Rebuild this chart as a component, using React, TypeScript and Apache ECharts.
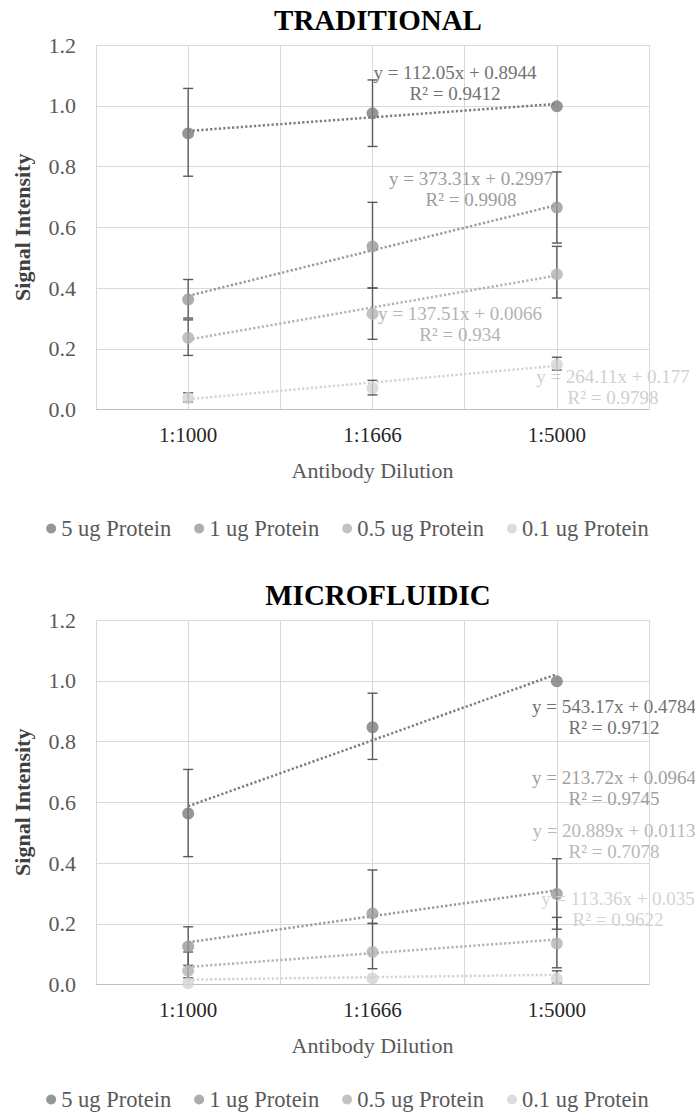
import React, { useEffect, useRef } from "react";
import * as echarts from "echarts";

// ---------- data ----------
const categories = ["1:1000", "1:1666", "1:5000"];
const seriesNames = ["5 ug Protein", "1 ug Protein", "0.5 ug Protein", "0.1 ug Protein"];
const seriesColors = ["#7c7c7c", "#999999", "#b3b3b3", "#d3d3d3"];

// TRADITIONAL
const tradValues = [
  [0.909, 0.975, 0.998],
  [0.362, 0.537, 0.665],
  [0.236, 0.315, 0.445],
  [0.038, 0.07, 0.148],
];
const tradErrLow = [
  [0.768, 0.866, null],
  [0.301, 0.4, 0.548],
  [0.178, 0.231, 0.367],
  [0.025, 0.048, 0.13],
];
const tradErrHigh = [
  [1.057, 1.085, null],
  [0.428, 0.682, 0.782],
  [0.295, 0.4, 0.537],
  [0.055, 0.096, 0.172],
];
const tradTrend = [
  [0.917, 0.962, 1.006],
  [0.374, 0.524, 0.673],
  [0.23, 0.336, 0.441],
  [0.034, 0.089, 0.144],
];
const tradEquations = ["y = 112.05x + 0.8944", "y = 373.31x + 0.2997", "y = 137.51x + 0.0066", "y = 264.11x + 0.177"];
const tradR2 = ["R² = 0.9412", "R² = 0.9908", "R² = 0.934", "R² = 0.9798"];

// MICROFLUIDIC
const microValues = [
  [0.563, 0.847, 0.998],
  [0.125, 0.234, 0.298],
  [0.045, 0.107, 0.135],
  [0.004, 0.02, 0.019],
];
const microErrLow = [
  [0.421, 0.741, null],
  [0.063, 0.201, 0.182],
  [0.022, 0.052, 0.055],
  [null, null, 0.005],
];
const microErrHigh = [
  [0.708, 0.959, null],
  [0.19, 0.377, 0.414],
  [0.107, 0.201, 0.221],
  [null, null, 0.045],
];
const microTrend = [
  [0.587, 0.804, 1.022],
  [0.139, 0.225, 0.31],
  [0.058, 0.103, 0.148],
  [0.016, 0.024, 0.032],
];
const microEquations = ["y = 543.17x + 0.4784", "y = 213.72x + 0.0964", "y = 20.889x + 0.0113", "y = 113.36x + 0.035"];
const microR2 = ["R² = 0.9712", "R² = 0.9745", "R² = 0.7078", "R² = 0.9622"];

// ---------- styling / layout ----------
const FONT = '"Liberation Serif", "Times New Roman", serif';
const W = 695;
const H = 1114;
const OFFSET = 575; // vertical offset of the second panel
const legendTops = [517, 1088];

const tradLabelPos = [
  { x: 455, y: 72, color: "#727272" },
  { x: 471, y: 178, color: "#9c9c9c" },
  { x: 460, y: 313, color: "#b4b4b4" },
  { x: 613, y: 376, color: "#d0d0d0" },
];
const microLabelPos = [
  { x: 614, y: 706 - OFFSET, color: "#727272" },
  { x: 614, y: 777 - OFFSET, color: "#a0a0a0" },
  { x: 614, y: 830 - OFFSET, color: "#b8b8b8" },
  { x: 618, y: 898 - OFFSET, color: "#d3d3d3" },
];

const xPos = (i: number) => i + 0.5;

function buildPanel(
  idx: number,
  titleText: string,
  values: number[][],
  errLow: (number | null)[][],
  errHigh: (number | null)[][],
  trend: number[][],
  eqs: string[],
  r2s: string[],
  labelPos: { x: number; y: number; color: string }[]
) {
  const dy = idx * OFFSET;
  const grid = { left: 96, right: 46, top: 45 + dy, height: 364.5, containLabel: false };
  const xAxis = {
    type: "value",
    gridIndex: idx,
    min: 0,
    max: 3,
    interval: 0.5,
    axisLine: { show: true, lineStyle: { color: "#bfbfbf", width: 1 } },
    axisTick: { show: false },
    splitLine: { show: true, lineStyle: { color: "#d9d9d9", width: 1 } },
    axisLabel: {
      margin: 15,
      fontSize: 21,
      fontFamily: FONT,
      color: "#262626",
      formatter: (v: number) => {
        const i = v - 0.5;
        return Number.isInteger(i) && categories[i] ? categories[i] : "";
      },
    },
    name: "Antibody Dilution",
    nameLocation: "middle",
    nameGap: 50,
    nameTextStyle: { fontSize: 22, fontFamily: FONT, color: "#595959" },
  };
  const yAxis = {
    type: "value",
    gridIndex: idx,
    min: 0,
    max: 1.2,
    interval: 0.2,
    axisLine: { show: false },
    axisTick: { show: false },
    splitLine: { show: true, lineStyle: { color: "#d9d9d9", width: 1 } },
    axisLabel: {
      margin: 20,
      fontSize: 22,
      fontFamily: FONT,
      color: "#595959",
      formatter: (v: number) => v.toFixed(1),
    },
    name: "Signal Intensity",
    nameLocation: "middle",
    nameGap: 63,
    nameTextStyle: { fontSize: 22, fontWeight: "bold", fontFamily: FONT, color: "#404040" },
  };

  const series: any[] = [];
  seriesNames.forEach((name, s) => {
    // error bars
    const ebData: number[][] = [];
    errLow[s].forEach((lo, i) => {
      const hi = errHigh[s][i];
      if (lo != null && hi != null) ebData.push([xPos(i), lo, hi]);
    });
    series.push({
      type: "custom",
      name: name + " error",
      xAxisIndex: idx,
      yAxisIndex: idx,
      z: 3,
      silent: true,
      encode: { x: 0, y: [1, 2] },
      data: ebData,
      renderItem: (_p: any, api: any) => {
        const x = api.value(0);
        const lo = api.coord([x, api.value(1)]);
        const hi = api.coord([x, api.value(2)]);
        const hw = 5;
        const st = { stroke: "#5a5a5a", lineWidth: 1.4 };
        return {
          type: "group",
          children: [
            { type: "line", shape: { x1: lo[0], y1: lo[1], x2: hi[0], y2: hi[1] }, style: st },
            { type: "line", shape: { x1: lo[0] - hw, y1: lo[1], x2: lo[0] + hw, y2: lo[1] }, style: st },
            { type: "line", shape: { x1: hi[0] - hw, y1: hi[1], x2: hi[0] + hw, y2: hi[1] }, style: st },
          ],
        };
      },
    });
    // markers
    series.push({
      type: "scatter",
      name,
      xAxisIndex: idx,
      yAxisIndex: idx,
      z: 4,
      symbol: "circle",
      symbolSize: 12,
      itemStyle: { color: seriesColors[s] },
      data: values[s].map((v, i) => [xPos(i), v]),
    });
    // trendline
    series.push({
      type: "line",
      name: name + " trend",
      xAxisIndex: idx,
      yAxisIndex: idx,
      z: 5,
      showSymbol: false,
      symbol: "none",
      silent: true,
      lineStyle: { color: seriesColors[s], width: 2.5, type: [2.2, 2.2] },
      data: trend[s].map((v, i) => [xPos(i), v]),
    });
  });

  const titleOpt = {
    text: titleText,
    left: 373,
    top: dy,
    padding: 5,
    textAlign: "center",
    textStyle: { fontFamily: FONT, fontSize: 29, fontWeight: "bold", color: "#000000" },
  };

  const legend = {
    data: seriesNames,
    left: "center",
    top: legendTops[idx],
    padding: 0,
    icon: "circle",
    itemWidth: 10,
    itemHeight: 10,
    itemGap: 23,
    selectedMode: false,
    textStyle: { fontFamily: FONT, fontSize: 22.5, lineHeight: 20, color: "#595959" },
  };

  const graphics: any[] = [];
  labelPos.forEach((p, s) => {
    graphics.push({
      type: "text",
      x: p.x,
      y: p.y + dy,
      z: 10,
      silent: true,
      style: {
        text: eqs[s],
        fill: p.color,
        font: `19px ${FONT}`,
        textAlign: "center",
        textVerticalAlign: "middle",
        align: "center",
        verticalAlign: "middle",
      },
    });
    graphics.push({
      type: "text",
      x: p.x,
      y: p.y + dy + 21.5,
      z: 10,
      silent: true,
      style: {
        text: r2s[s],
        fill: p.color,
        font: `19px ${FONT}`,
        textAlign: "center",
        textVerticalAlign: "middle",
        align: "center",
        verticalAlign: "middle",
      },
    });
  });

  return { grid, xAxis, yAxis, series, title: titleOpt, legend, graphics };
}

export default function App() {
  const ref = useRef<HTMLDivElement>(null);
  useEffect(() => {
    if (!ref.current) return;
    const chart = echarts.init(ref.current, undefined, { renderer: "svg" });
    const p1 = buildPanel(0, "TRADITIONAL", tradValues, tradErrLow, tradErrHigh, tradTrend, tradEquations, tradR2, tradLabelPos);
    const p2 = buildPanel(1, "MICROFLUIDIC", microValues, microErrLow, microErrHigh, microTrend, microEquations, microR2, microLabelPos);
    chart.setOption({
      animation: false,
      backgroundColor: "#ffffff",
      textStyle: { fontFamily: FONT },
      title: [p1.title, p2.title],
      legend: [p1.legend, p2.legend],
      grid: [p1.grid, p2.grid],
      xAxis: [p1.xAxis, p2.xAxis],
      yAxis: [p1.yAxis, p2.yAxis],
      series: [...p1.series, ...p2.series],
      graphic: { elements: [...p1.graphics, ...p2.graphics] },
    });
    return () => chart.dispose();
  }, []);
  return (
    <div
      ref={ref}
      style={{ position: "absolute", left: 0, top: 0, width: W, height: H, background: "#fff" }}
    />
  );
}
